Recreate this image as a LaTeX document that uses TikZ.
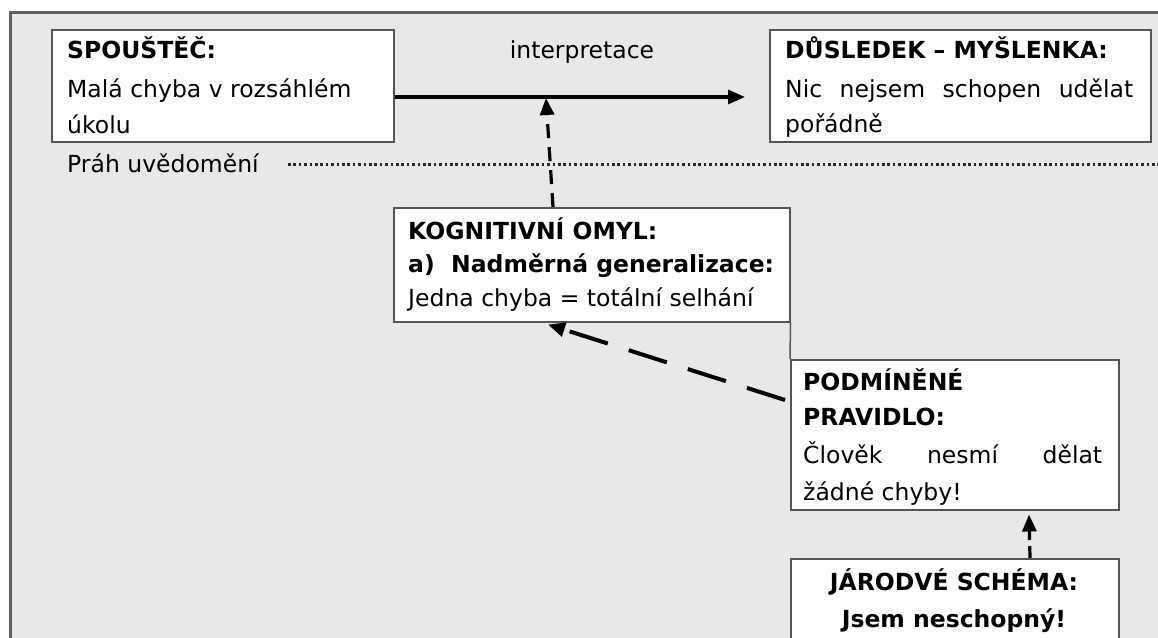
\documentclass[tikz,border=0pt]{standalone}
\usepackage{fontspec}
\setmainfont{DejaVu Sans}
\usetikzlibrary{arrows.meta,calc}
\definecolor{panel}{HTML}{E8E8E8}
\definecolor{edge}{HTML}{555555}
\definecolor{frame}{HTML}{606060}
\begin{document}
\begin{tikzpicture}[x=1pt,y=-1pt,
  card/.style={draw=edge, line width=1.5pt, fill=white, inner sep=0pt, anchor=north west},
  txt/.style={anchor=base west, inner sep=0pt, font=\fontsize{23.5}{28}\selectfont},
  ctxt/.style={txt, anchor=base},
  flow/.style={line width=3.2pt, -{Triangle[length=17pt,width=14pt]}},
  dflow/.style={flow, dash pattern=on 14pt off 9pt},
  wflow/.style={flow, line width=4pt, dash pattern=on 40pt off 22pt},
  threshold/.style={line width=3pt, draw=black!85, dash pattern=on 2.6pt off 2.8pt}]
\useasboundingbox (0,0) rectangle (1158,637);
\clip (0,0) rectangle (1158,637);
\fill[white] (0,0) rectangle (1158,637);
% grey panel, open to the right and bottom
\draw[fill=panel, draw=frame, line width=3pt] (10.5,12.5) rectangle (1200,700);

% boxes
\node[card, minimum width=342pt, minimum height=112pt] (spoustec) at (51,29) {};
\node[card, minimum width=381pt, minimum height=112pt] (dusledek) at (769,29) {};
\node[card, minimum width=396pt, minimum height=114pt] (kognitivni) at (393,207) {};
\node[card, minimum width=328pt, minimum height=150pt] (podminene) at (790,359) {};
\node[card, minimum width=328pt, minimum height=80pt] (jarodve) at (790,558) {};
\draw[draw=edge, line width=1.5pt] (kognitivni.south east) -- (podminene.north west);

% texts
\node[txt] (s1) at (67,58) {\bfseries SPOUŠTĚČ:};
\node[txt] (s2) at (67,97) {Malá chyba v rozsáhlém};
\node[txt] (s3) at (67,133) {úkolu};
\node[ctxt] (interp) at (582,58) {interpretace};
\node[txt] (d1) at (785,58) {\bfseries DŮSLEDEK – MYŠLENKA:};
\node[txt] (d2) at (785,97) {\makebox[348pt][s]{Nic nejsem schopen udělat}};
\node[txt] (d3) at (785,132) {pořádně};
\node[txt] (prah) at (67,172) {Práh uvědomění};
\node[txt] (k1) at (408,239) {\bfseries KOGNITIVNÍ OMYL:};
\node[txt] (k2) at (408,272) {\bfseries a)\ \ Nadměrná generalizace:};
\node[txt] (k3) at (408,306) {Jedna chyba = totální selhání};
\node[txt] (p1) at (803,390) {\bfseries PODMÍNĚNÉ};
\node[txt] (p2) at (803,425) {\bfseries PRAVIDLO:};
\node[txt] (p3) at (803,463) {\makebox[299pt][s]{Člověk nesmí dělat}};
\node[txt] (p4) at (803,500) {žádné chyby!};
\node[ctxt] (j1) at (954,590) {\bfseries JÁRODVÉ SCHÉMA:};
\node[ctxt] (j2) at (954,627) {\bfseries Jsem neschopný!};

% awareness threshold
\draw[threshold] (288,164) -- (1158,164);

% connectors
\coordinate (mid) at (546,97);
\draw[flow] (spoustec.east |- mid) -- ([xshift=-24pt]dusledek.west |- mid);
\draw[dflow] ($(kognitivni.north west)+(160,0)$) -- ($(mid)+(0,1)$);
\draw[wflow] ($(podminene.north west)+(-5,41)$) -- ($(kognitivni.south west)+(155,2)$);
\draw[flow, dash pattern=on 12pt off 6pt] ($(jarodve.north west)+(240,0)$) -- ($(podminene.south west)+(239,4)$);
\end{tikzpicture}
\end{document}
